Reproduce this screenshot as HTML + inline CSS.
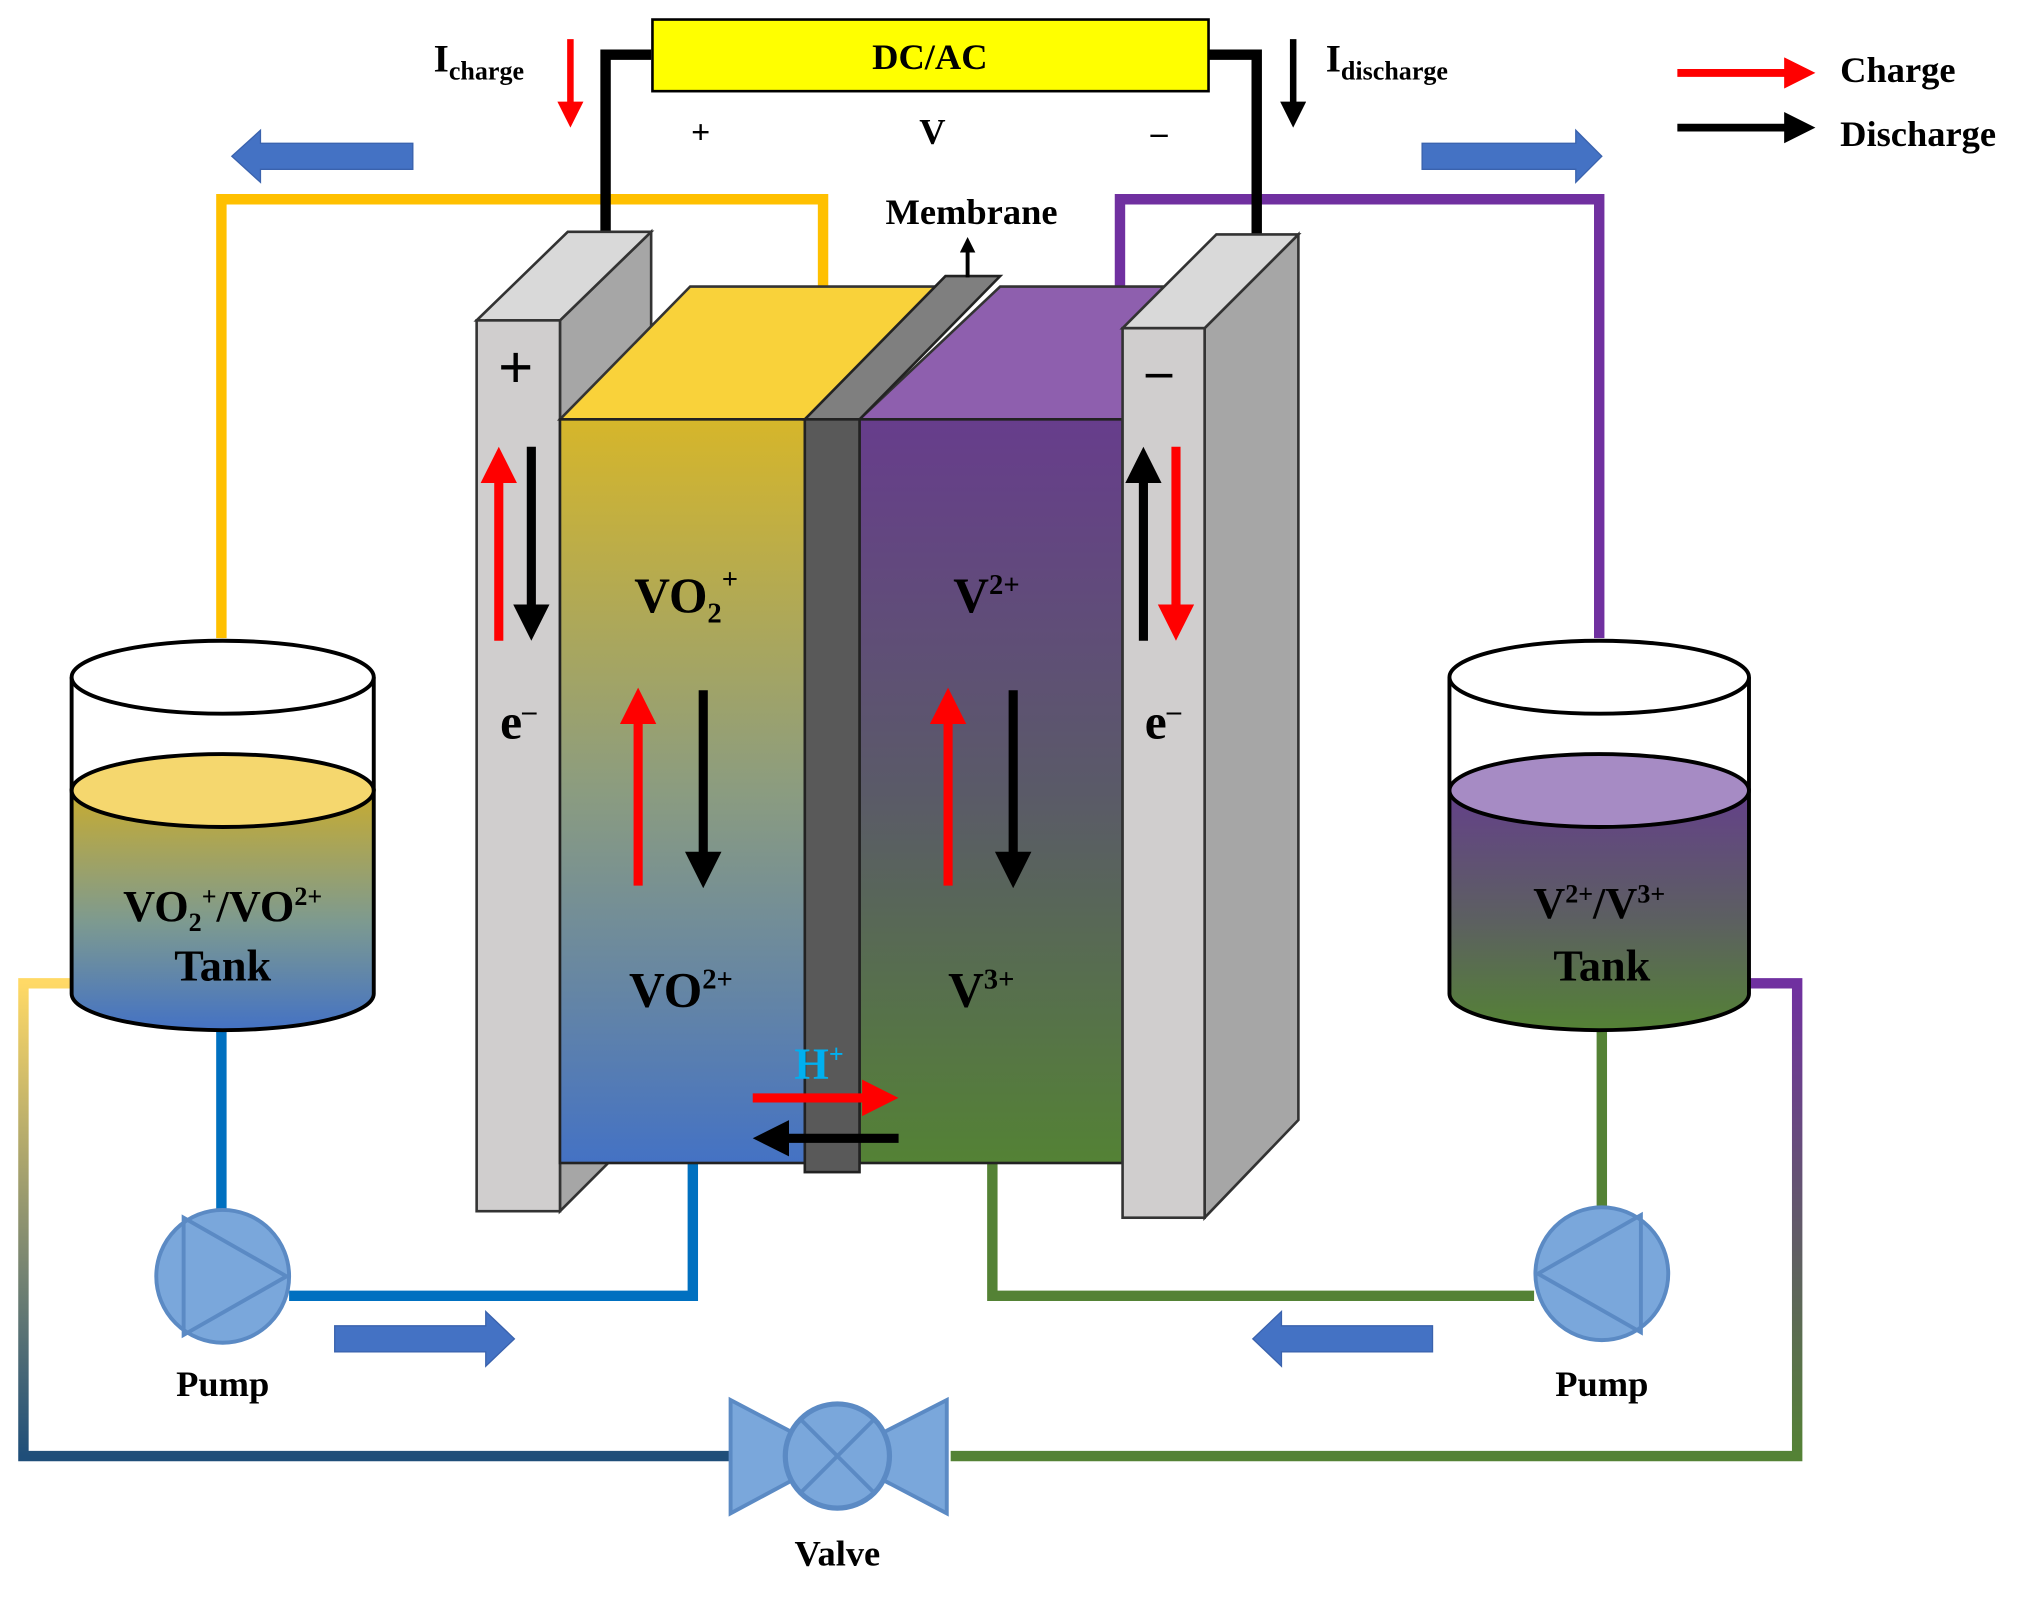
<!DOCTYPE html>
<html><head><meta charset="utf-8"><style>
html,body{margin:0;padding:0;background:#fff;}
svg{display:block;}
text{font-family:"Liberation Serif",serif;font-weight:bold;}
</style></head><body>
<svg width="2042" height="1598" viewBox="0 0 1568 1227" preserveAspectRatio="none" xmlns="http://www.w3.org/2000/svg">
<defs>
<linearGradient id="gl" x1="0" y1="0" x2="0" y2="1"><stop offset="0" stop-color="#d6b62a"/><stop offset="0.5" stop-color="#8b9c80"/><stop offset="1" stop-color="#4472c4"/></linearGradient>
<linearGradient id="gr" x1="0" y1="0" x2="0" y2="1"><stop offset="0" stop-color="#673d8c"/><stop offset="0.5" stop-color="#5a5a68"/><stop offset="1" stop-color="#548235"/></linearGradient>
<linearGradient id="tl" x1="0" y1="0" x2="0" y2="1"><stop offset="0" stop-color="#c8ac30"/><stop offset="0.55" stop-color="#7d9a90"/><stop offset="1" stop-color="#4472c4"/></linearGradient>
<linearGradient id="tr" x1="0" y1="0" x2="0" y2="1"><stop offset="0" stop-color="#64408a"/><stop offset="0.55" stop-color="#5c6060"/><stop offset="1" stop-color="#548235"/></linearGradient>
<linearGradient id="pl" gradientUnits="userSpaceOnUse" x1="0" y1="755" x2="0" y2="1118"><stop offset="0" stop-color="#ffd966"/><stop offset="1" stop-color="#1f4e79"/></linearGradient>
<linearGradient id="pr" gradientUnits="userSpaceOnUse" x1="0" y1="755" x2="0" y2="1118"><stop offset="0" stop-color="#7030a0"/><stop offset="1" stop-color="#548235"/></linearGradient>
<marker id="ar" markerWidth="4" markerHeight="4" refX="2" refY="2" orient="auto" markerUnits="strokeWidth"><path d="M0,0 L4,2 L0,4 Z" fill="#ff0000"/></marker>
<marker id="ab" markerWidth="4" markerHeight="4" refX="2" refY="2" orient="auto" markerUnits="strokeWidth"><path d="M0,0 L4,2 L0,4 Z" fill="#000"/></marker>
</defs>

<!-- top pipes -->
<polyline points="170,490 170,153 632,153 632,222" fill="none" stroke="#ffc000" stroke-width="8"/>
<polyline points="860,222 860,153 1228,153 1228,490" fill="none" stroke="#7030a0" stroke-width="8"/>
<!-- outer bottom pipes -->
<polyline points="55,755 18,755 18,1118 560,1118" fill="none" stroke="url(#pl)" stroke-width="8"/>
<polyline points="1343,755 1380,755 1380,1118 730,1118" fill="none" stroke="url(#pr)" stroke-width="8"/>
<!-- inner pipes -->
<polyline points="170,790 170,930" fill="none" stroke="#0070c0" stroke-width="8"/>
<polyline points="222,995 532,995 532,893" fill="none" stroke="#0070c0" stroke-width="8"/>
<polyline points="1230,790 1230,928" fill="none" stroke="#548235" stroke-width="8"/>
<polyline points="762,893 762,995 1178,995" fill="none" stroke="#548235" stroke-width="8"/>

<!-- wires -->
<polyline points="500,42 465,42 465,182" fill="none" stroke="#000" stroke-width="8"/>
<polyline points="928,42 965,42 965,184" fill="none" stroke="#000" stroke-width="8"/>
<rect x="501" y="15" width="427" height="55" fill="#ffff00" stroke="#000" stroke-width="2"/>
<text x="714" y="53" font-size="28" text-anchor="middle">DC/AC</text>
<text x="538" y="110" font-size="26" text-anchor="middle">+</text>
<text x="716" y="110" font-size="28" text-anchor="middle">V</text>
<text x="890" y="110" font-size="26" text-anchor="middle">–</text>
<text x="333" y="55" font-size="30">I<tspan font-size="20" dy="6">charge</tspan></text>
<line x1="438" y1="30" x2="438" y2="88" stroke="#ff0000" stroke-width="5" marker-end="url(#ar)"/>
<text x="1018" y="55" font-size="30">I<tspan font-size="20" dy="6">discharge</tspan></text>
<line x1="993" y1="30" x2="993" y2="88" stroke="#000" stroke-width="5" marker-end="url(#ab)"/>

<!-- legend -->
<line x1="1288" y1="56" x2="1382" y2="56" stroke="#ff0000" stroke-width="6" marker-end="url(#ar)"/>
<text x="1413" y="63" font-size="28">Charge</text>
<line x1="1288" y1="98" x2="1382" y2="98" stroke="#000" stroke-width="6" marker-end="url(#ab)"/>
<text x="1413" y="112" font-size="28">Discharge</text>

<!-- blue block arrows -->
<g fill="#4472c4" stroke="#3a62ad" stroke-width="1">
<polygon points="317,110 200,110 200,100 178,120 200,140 200,130 317,130"/>
<polygon points="1092,110 1210,110 1210,100 1230,120 1210,140 1210,130 1092,130"/>
<polygon points="257,1018 373,1018 373,1007 395,1028 373,1049 373,1038 257,1038"/>
<polygon points="1100,1018 984,1018 984,1007 962,1028 984,1049 984,1038 1100,1038"/>
</g>

<!-- left electrode -->
<polygon points="430,246 500,178 500,860 430,930" fill="#a6a6a6" stroke="#333" stroke-width="2"/>
<polygon points="366,246 430,246 500,178 436,178" fill="#d9d9d9" stroke="#333" stroke-width="2"/>
<rect x="366" y="246" width="64" height="684" fill="#d0cece" stroke="#333" stroke-width="2"/>
<!-- left cell -->
<polygon points="430,322 618,322 726,220 530,220" fill="#f9d23a" stroke="#333" stroke-width="2"/>
<rect x="430" y="322" width="188" height="571" fill="url(#gl)" stroke="#222" stroke-width="2"/>
<!-- right cell -->
<polygon points="660,322 862,322 900,220 768,220" fill="#8e5fae" stroke="#333" stroke-width="2"/>
<rect x="660" y="322" width="202" height="571" fill="url(#gr)" stroke="#222" stroke-width="2"/>
<!-- membrane -->
<polygon points="618,322 660,322 768,212 726,212" fill="#7f7f7f" stroke="#222" stroke-width="2"/>
<rect x="618" y="322" width="42" height="578" fill="#595959" stroke="#222" stroke-width="2"/>
<!-- right electrode -->
<polygon points="925,252 997,180 997,860 925,935" fill="#a6a6a6" stroke="#333" stroke-width="2"/>
<polygon points="862,252 925,252 997,180 934,180" fill="#d9d9d9" stroke="#333" stroke-width="2"/>
<rect x="862" y="252" width="63" height="683" fill="#d0cece" stroke="#333" stroke-width="2"/>

<text x="746" y="172" font-size="28" text-anchor="middle">Membrane</text>
<line x1="743" y1="213" x2="743" y2="188" stroke="#000" stroke-width="3" marker-end="url(#ab)"/>

<text x="396" y="298" font-size="48" text-anchor="middle" font-weight="normal">+</text>
<text x="890" y="298" font-size="40" text-anchor="middle">–</text>
<text x="398" y="567" font-size="38" text-anchor="middle">e<tspan font-size="22" dy="-14">–</tspan></text>
<text x="893" y="567" font-size="38" text-anchor="middle">e<tspan font-size="22" dy="-14">–</tspan></text>

<!-- electrode arrows -->
<line x1="383" y1="492" x2="383" y2="357" stroke="#ff0000" stroke-width="7" marker-end="url(#ar)"/>
<line x1="408" y1="343" x2="408" y2="478" stroke="#000" stroke-width="7" marker-end="url(#ab)"/>
<line x1="878" y1="492" x2="878" y2="357" stroke="#000" stroke-width="7" marker-end="url(#ab)"/>
<line x1="903" y1="343" x2="903" y2="478" stroke="#ff0000" stroke-width="7" marker-end="url(#ar)"/>
<!-- cell arrows -->
<line x1="490" y1="680" x2="490" y2="542" stroke="#ff0000" stroke-width="7" marker-end="url(#ar)"/>
<line x1="540" y1="530" x2="540" y2="668" stroke="#000" stroke-width="7" marker-end="url(#ab)"/>
<line x1="728" y1="680" x2="728" y2="542" stroke="#ff0000" stroke-width="7" marker-end="url(#ar)"/>
<line x1="778" y1="530" x2="778" y2="668" stroke="#000" stroke-width="7" marker-end="url(#ab)"/>

<text x="487" y="470" font-size="38">VO<tspan font-size="22" dy="8">2</tspan><tspan font-size="22" dy="-26">+</tspan></text>
<text x="483" y="773" font-size="38">VO<tspan font-size="22" dy="-14">2+</tspan></text>
<text x="732" y="470" font-size="38">V<tspan font-size="22" dy="-14">2+</tspan></text>
<text x="728" y="773" font-size="38">V<tspan font-size="22" dy="-14">3+</tspan></text>

<text x="610" y="828" font-size="34" fill="#00b0f0">H<tspan font-size="20" dy="-12">+</tspan></text>
<line x1="578" y1="843" x2="676" y2="843" stroke="#ff0000" stroke-width="7" marker-end="url(#ar)"/>
<line x1="690" y1="874" x2="592" y2="874" stroke="#000" stroke-width="7" marker-end="url(#ab)"/>

<!-- left tank -->
<path d="M55,607 L55,763 A116,28 0 0 0 287,763 L287,607 Z" fill="url(#tl)" stroke="#000" stroke-width="3"/>
<ellipse cx="171" cy="607" rx="116" ry="28" fill="#f5d76e" stroke="#000" stroke-width="3"/>
<line x1="55" y1="520" x2="55" y2="607" stroke="#000" stroke-width="3"/>
<line x1="287" y1="520" x2="287" y2="607" stroke="#000" stroke-width="3"/>
<ellipse cx="171" cy="520" rx="116" ry="28" fill="#fff" stroke="#000" stroke-width="3"/>
<text x="171" y="707" font-size="34" text-anchor="middle">VO<tspan font-size="20" dy="8">2</tspan><tspan font-size="20" dy="-20">+</tspan><tspan dy="12">/VO</tspan><tspan font-size="20" dy="-12">2+</tspan></text>
<text x="171" y="753" font-size="34" text-anchor="middle">Tank</text>

<!-- right tank -->
<path d="M1113,607 L1113,763 A115,28 0 0 0 1343,763 L1343,607 Z" fill="url(#tr)" stroke="#000" stroke-width="3"/>
<ellipse cx="1228" cy="607" rx="115" ry="28" fill="#a68bc4" stroke="#000" stroke-width="3"/>
<line x1="1113" y1="520" x2="1113" y2="607" stroke="#000" stroke-width="3"/>
<line x1="1343" y1="520" x2="1343" y2="607" stroke="#000" stroke-width="3"/>
<ellipse cx="1228" cy="520" rx="115" ry="28" fill="#fff" stroke="#000" stroke-width="3"/>
<text x="1228" y="705" font-size="34" text-anchor="middle">V<tspan font-size="20" dy="-12">2+</tspan><tspan dy="12">/V</tspan><tspan font-size="20" dy="-12">3+</tspan></text>
<text x="1230" y="753" font-size="34" text-anchor="middle">Tank</text>

<!-- pumps -->
<circle cx="171" cy="980" r="51" fill="#7aa7db" stroke="#5b8ac4" stroke-width="3"/>
<polygon points="141,935 141,1025 220,980" fill="none" stroke="#5b8ac4" stroke-width="3"/>
<circle cx="1230" cy="978" r="51" fill="#7aa7db" stroke="#5b8ac4" stroke-width="3"/>
<polygon points="1260,933 1260,1023 1181,978" fill="none" stroke="#5b8ac4" stroke-width="3"/>
<text x="171" y="1072" font-size="28" text-anchor="middle">Pump</text>
<text x="1230" y="1072" font-size="28" text-anchor="middle">Pump</text>

<!-- valve -->
<polygon points="561,1075 561,1162 643,1118" fill="#7aa7db" stroke="#5b8ac4" stroke-width="3"/>
<polygon points="727,1075 727,1162 643,1118" fill="#7aa7db" stroke="#5b8ac4" stroke-width="3"/>
<circle cx="643" cy="1118" r="40" fill="#7aa7db" stroke="#5b8ac4" stroke-width="4"/>
<line x1="615" y1="1090" x2="671" y2="1146" stroke="#5b8ac4" stroke-width="3"/>
<line x1="671" y1="1090" x2="615" y2="1146" stroke="#5b8ac4" stroke-width="3"/>
<text x="643" y="1202" font-size="28" text-anchor="middle">Valve</text>
</svg>
</body></html>
